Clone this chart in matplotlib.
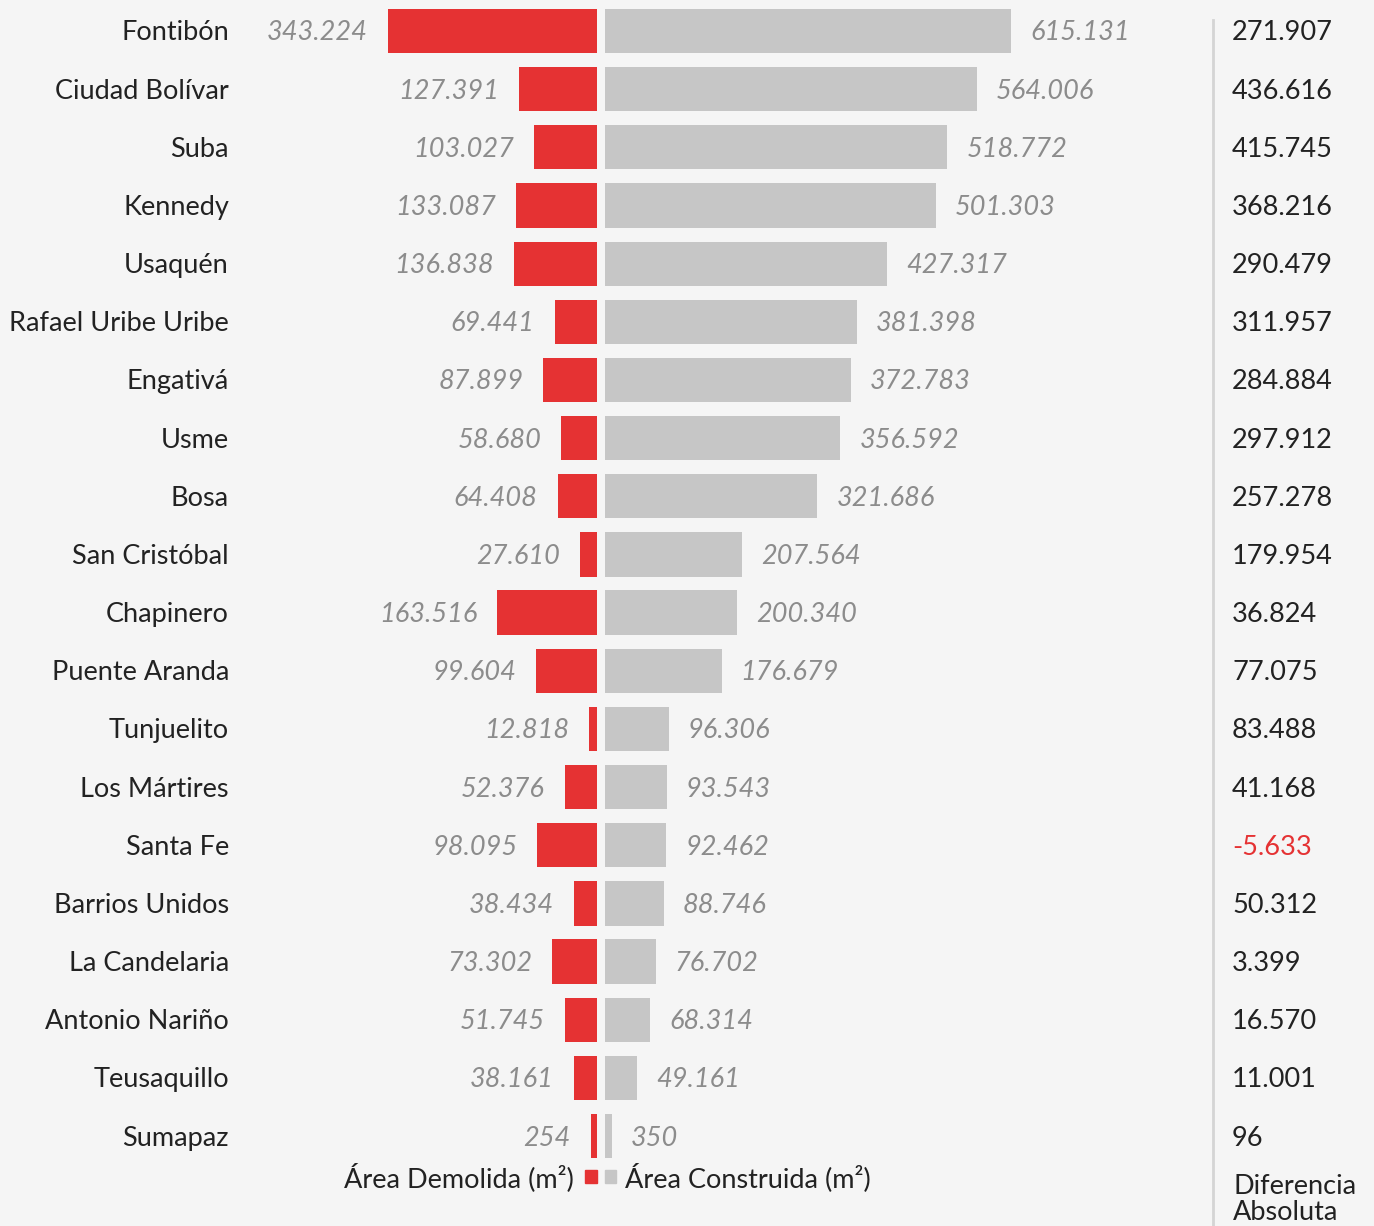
import matplotlib
matplotlib.use('Agg')
import matplotlib.pyplot as plt
import matplotlib.transforms as mtransforms
from matplotlib.lines import Line2D
from matplotlib.patches import Rectangle
import numpy as np

plt.rcParams['font.family'] = ['Lato', 'DejaVu Sans']

localidades = ['Fontibón', 'Ciudad Bolívar', 'Suba', 'Kennedy', 'Usaquén',
               'Rafael Uribe Uribe', 'Engativá', 'Usme', 'Bosa', 'San Cristóbal',
               'Chapinero', 'Puente Aranda', 'Tunjuelito', 'Los Mártires', 'Santa Fe',
               'Barrios Unidos', 'La Candelaria', 'Antonio Nariño', 'Teusaquillo', 'Sumapaz']
demolida = [343224, 127391, 103027, 133087, 136838, 69441, 87899, 58680, 64408, 27610,
            163516, 99604, 12818, 52376, 98095, 38434, 73302, 51745, 38161, 254]
construida = [615131, 564006, 518772, 501303, 427317, 381398, 372783, 356592, 321686, 207564,
              200340, 176679, 96306, 93543, 92462, 88746, 76702, 68314, 49161, 350]
diferencia = [271907, 436616, 415745, 368216, 290479, 311957, 284884, 297912, 257278, 179954,
              36824, 77075, 83488, 41168, -5633, 50312, 3399, 16570, 11001, 96]

BG = '#f5f5f5'
RED = '#e53233'
GRAY = '#c6c6c6'
LABEL = '#8c8c8c'
TEXT = '#222222'
FS = 19.5

W, H = 1374, 1226
fig = plt.figure(figsize=(W / 100, H / 100), dpi=100, facecolor=BG)

def fx(px):
    return px / W

# rows: first center at 31px, spacing ~58.16px
step = 58.16
ytop = -31 / step
ybot = ytop + H / step
y = np.arange(len(localidades))

# tiny values still get a visible sliver
MIN_W = 10000

axL = fig.add_axes([fx(240), 0, fx(597 - 240), 1])
axR = fig.add_axes([fx(605), 0, fx(1205 - 605), 1])
for ax in (axL, axR):
    ax.set_facecolor('none')
    ax.set_ylim(ybot, ytop)
    ax.axis('off')

axL.set_xlim((597 - 240) / 0.61 * 1000, 0)
axR.set_xlim(0, (1205 - 605) / 0.66 * 1000)

dem_plot = np.maximum(demolida, MIN_W)
con_plot = np.maximum(construida, MIN_W)
axL.barh(y, dem_plot, height=0.76, color=RED)
axR.barh(y, con_plot, height=0.76, color=GRAY)

def fmt(v):
    return f'{v:,}'.replace(',', '.')

yoff = -2  # nudge text slightly down to sit on the bar centre
for i in range(len(localidades)):
    axL.annotate(fmt(demolida[i]), xy=(dem_plot[i], i), xytext=(-20, yoff),
                 textcoords='offset pixels', ha='right', va='center',
                 fontsize=FS, style='italic', color=LABEL)
    axR.annotate(fmt(construida[i]), xy=(con_plot[i], i), xytext=(19, yoff),
                 textcoords='offset pixels', ha='left', va='center',
                 fontsize=FS, style='italic', color=LABEL)

tr = mtransforms.blended_transform_factory(fig.transFigure, axL.transData)
for i, name in enumerate(localidades):
    axL.annotate(name, xy=(fx(229), i), xycoords=tr, xytext=(0, yoff),
                 textcoords='offset pixels', ha='right', va='center',
                 fontsize=FS, color=TEXT, annotation_clip=False)
    d = diferencia[i]
    axL.annotate(fmt(d), xy=(fx(1232), i), xycoords=tr, xytext=(0, yoff),
                 textcoords='offset pixels', ha='left', va='center',
                 fontsize=FS, color=RED if d < 0 else TEXT, annotation_clip=False)

# separator line before the difference column
fig.add_artist(Line2D([fx(1213), fx(1213)], [0, 1 - 20 / H], color='#d4d4d4', lw=2))

# legend at the bottom
ly = 1 - 1178 / H
fig.text(fx(574), ly, 'Área Demolida (m²)', ha='right', va='center', fontsize=FS, color=TEXT)
fig.text(fx(625), ly, 'Área Construida (m²)', ha='left', va='center', fontsize=FS, color=TEXT)
fig.add_artist(Rectangle((fx(585), 1 - 1183 / H), fx(12), 13 / H, color=RED,
                         transform=fig.transFigure))
fig.add_artist(Rectangle((fx(605), 1 - 1183 / H), fx(11), 13 / H, color=GRAY,
                         transform=fig.transFigure))
fig.text(fx(1233), 1 - 1174 / H, 'Diferencia\nAbsoluta', ha='left', va='top',
         fontsize=FS, color=TEXT, linespacing=1.05)

fig.savefig('out.png', dpi=100, facecolor=BG)
